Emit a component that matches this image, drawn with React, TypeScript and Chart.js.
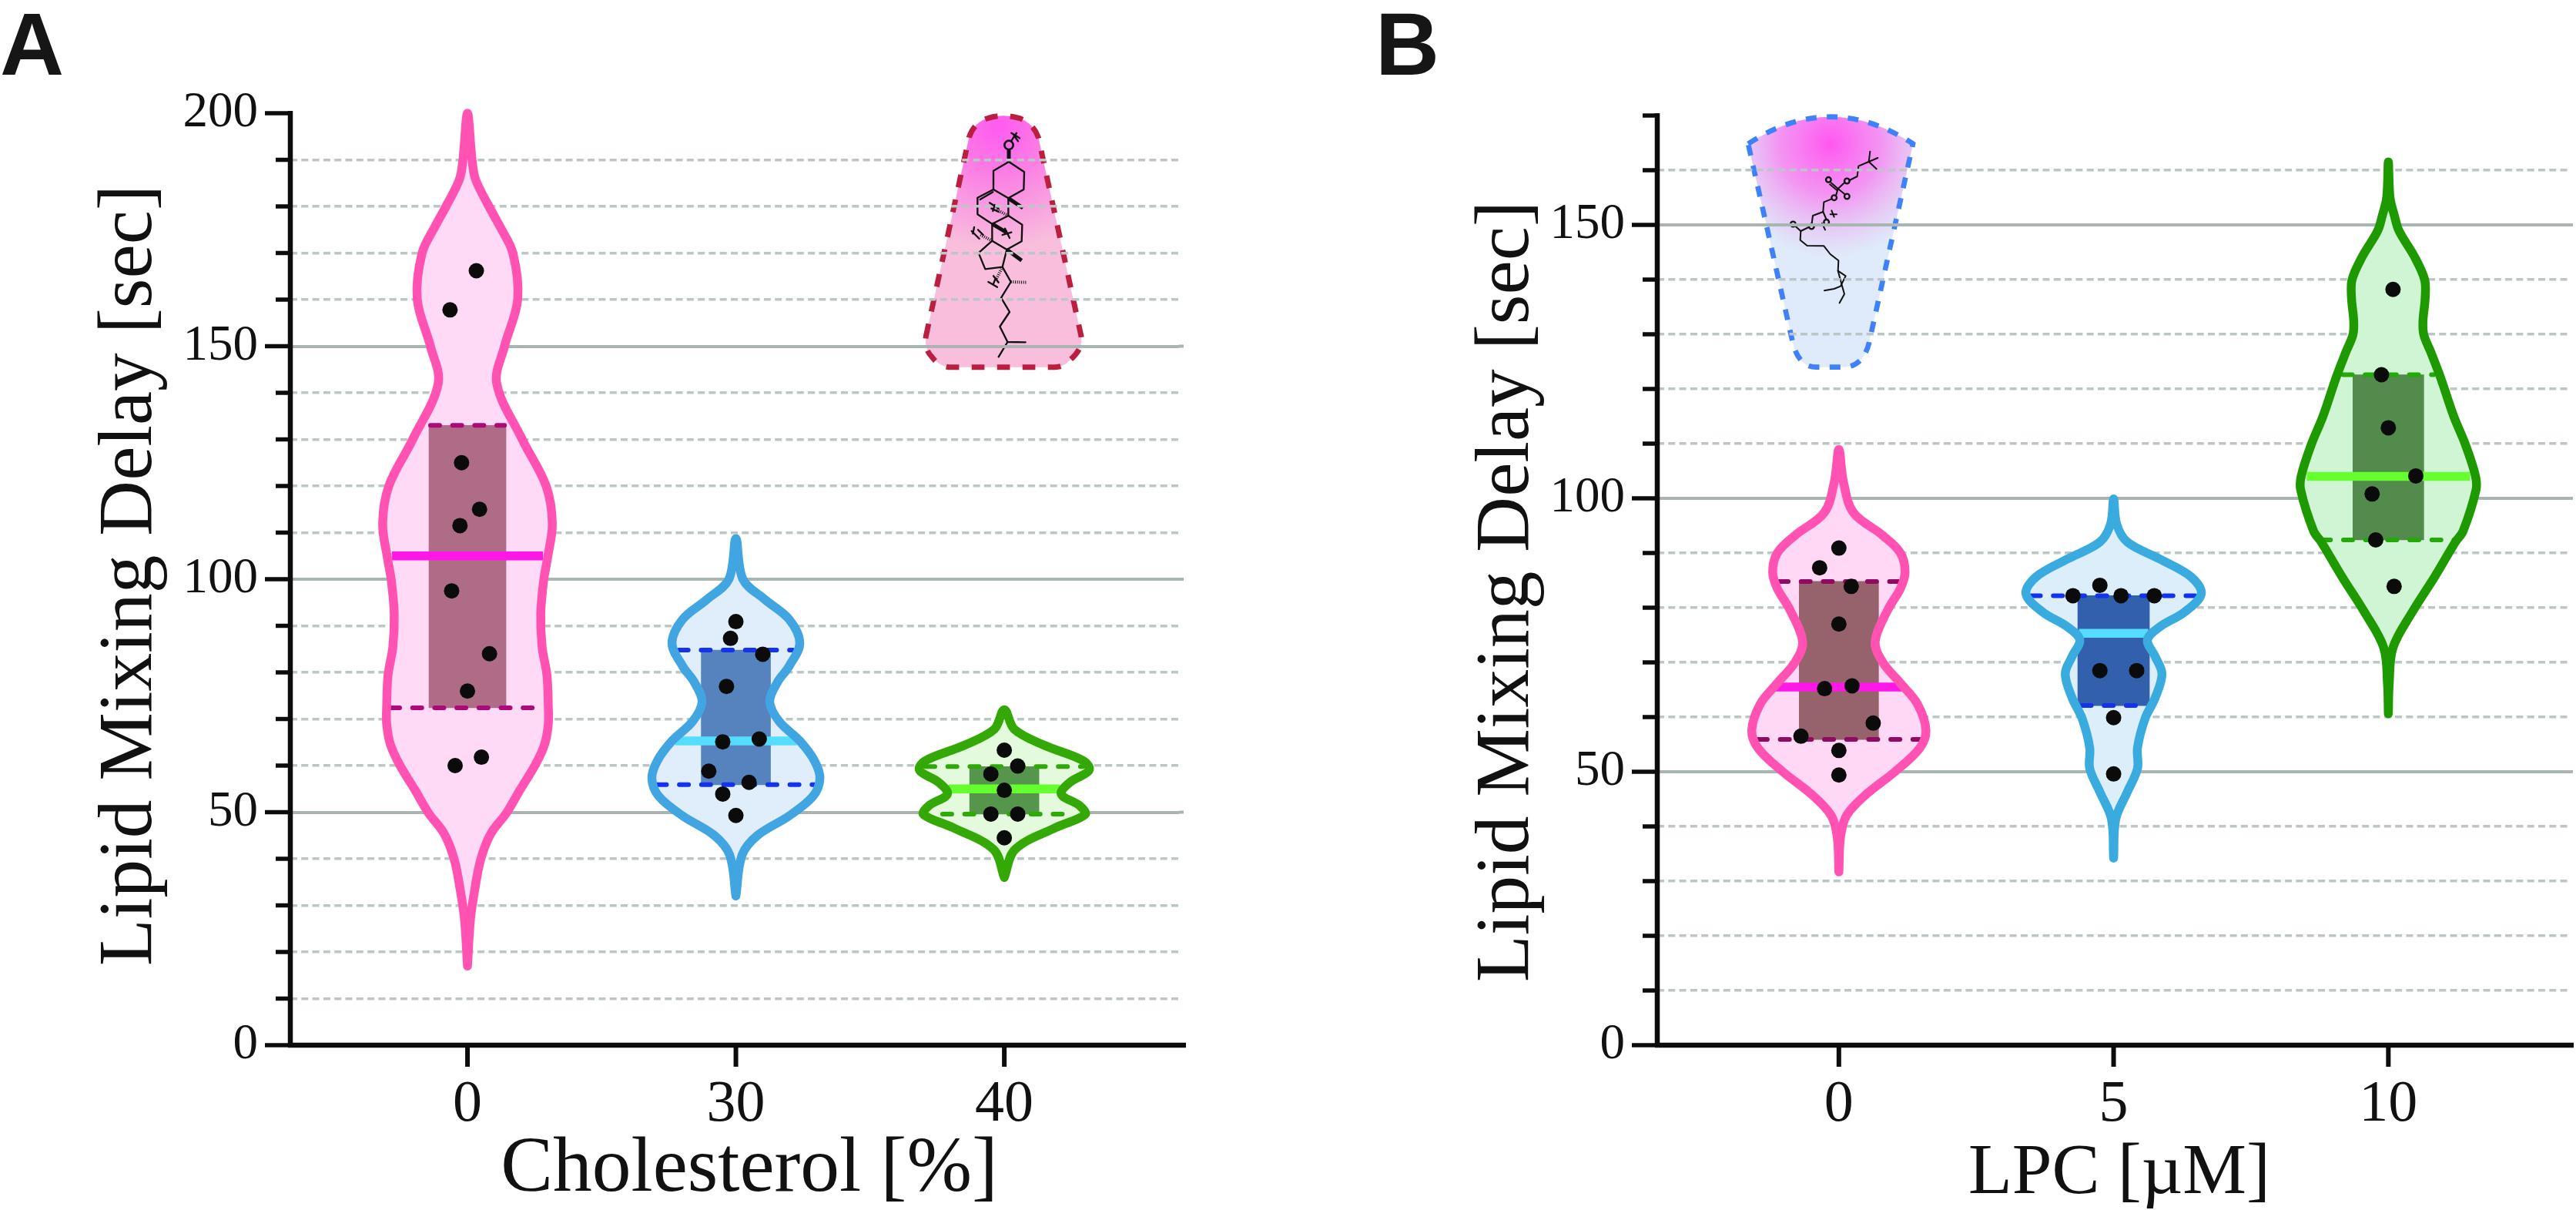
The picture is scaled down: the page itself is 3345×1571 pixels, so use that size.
import React, { useEffect, useRef } from "react";
import Chart from "chart.js/auto";

const categoriesA = ["0", "30", "40"];
const categoriesB = ["0", "5", "10"];

const violinA0Levels = [17, 27, 33, 39.8, 45.3, 49.9, 54.7, 60.2, 64.5, 68.9, 72.8, 79.4, 85.5, 92.6, 99.8, 104.5, 111.9, 120, 130, 142, 150, 160, 170, 176, 180, 185.8, 190, 200];
const violinA0Widths = [0, 0.011, 0.026, 0.049, 0.086, 0.146, 0.195, 0.253, 0.287, 0.301, 0.301, 0.296, 0.278, 0.273, 0.284, 0.298, 0.316, 0.293, 0.204, 0.109, 0.138, 0.187, 0.169, 0.118, 0.08, 0.03, 0.017, 0];
const violinA1Levels = [32, 40.8, 45, 49.2, 53.4, 57.2, 61, 65.3, 69.5, 73.7, 77.9, 81.3, 86.3, 91.4, 95.6, 100, 108.7];
const violinA1Widths = [0, 0.023, 0.08, 0.198, 0.287, 0.313, 0.293, 0.238, 0.161, 0.126, 0.155, 0.198, 0.238, 0.198, 0.109, 0.026, 0];
const violinA2Levels = [36, 42, 46.7, 49.5, 51.4, 53.9, 56.4, 59, 61, 64.5, 67.8, 72];
const violinA2Widths = [0, 0.04, 0.192, 0.301, 0.281, 0.212, 0.244, 0.316, 0.296, 0.143, 0.037, 0];

const violinB0Levels = [31.7, 38.1, 42, 45.8, 50, 54.3, 57.6, 62.4, 66.2, 70, 73.8, 79.7, 83.5, 86.5, 90, 93.2, 97.4, 102.9, 108.9];
const violinB0Widths = [0, 0.006, 0.028, 0.098, 0.204, 0.294, 0.317, 0.286, 0.224, 0.16, 0.132, 0.179, 0.224, 0.241, 0.224, 0.16, 0.053, 0.017, 0];
const violinB1Levels = [34.2, 41.4, 46.3, 50.6, 54.4, 59.8, 63.5, 67.9, 71.1, 74.1, 76.5, 79.2, 82.5, 85.6, 88.9, 92, 95.3, 99.9];
const violinB1Widths = [0, 0.008, 0.05, 0.087, 0.087, 0.115, 0.151, 0.176, 0.151, 0.123, 0.168, 0.258, 0.319, 0.283, 0.168, 0.05, 0.011, 0];
const violinB2Levels = [60.6, 66, 72.7, 79.2, 85.6, 92, 94, 101.5, 104.1, 109.9, 115, 122.1, 126.8, 129.9, 132.4, 136.6, 140, 144.2, 148.9, 151.7, 155, 161.5];
const violinB2Widths = [0, 0.003, 0.017, 0.087, 0.168, 0.244, 0.272, 0.319, 0.317, 0.28, 0.238, 0.19, 0.154, 0.129, 0.126, 0.134, 0.132, 0.095, 0.039, 0.022, 0.006, 0];

const mediansA = [105, 65.3, 55];
const medianSpanA = [0.281, 0.227, 0.207];
const q1A = [72.4, 55.9, 49.6];
const q1SpanA = [0.287, 0.293, 0.23];
const q3A = [133, 84.8, 59.8];
const q3SpanA = [0.138, 0.212, 0.293];

const mediansB = [65.5, 75.3, 104];
const medianSpanB = [0.238, 0.126, 0.297];
const q1B = [55.9, 62.1, 92.4];
const q1SpanB = [0.294, 0.115, 0.244];
const q3B = [84.8, 82.2, 122.6];
const q3SpanB = [0.218, 0.3, 0.165];

const dotsA0X = [0.033, -0.065, -0.022, 0.045, -0.028, -0.059, 0.082, 0, 0.052, -0.046];
const dotsA0Y = [166.2, 157.8, 125, 115, 111.5, 97.5, 84, 76, 61.8, 60];
const dotsA1X = [0, -0.02, 0.1, -0.035, -0.049, 0.087, -0.101, 0.049, -0.049, 0];
const dotsA1Y = [90.9, 87.3, 83.9, 77, 65.1, 65.7, 58.8, 56.4, 53.9, 49.3];
const dotsA2X = [0, 0.05, -0.05, 0, -0.05, 0.05, 0];
const dotsA2Y = [63.3, 59.9, 58.2, 54.7, 49.6, 49.6, 44.5];

const dotsB0X = [0, -0.07, 0.045, 0, -0.052, 0.048, 0.125, -0.138, 0, 0];
const dotsB0Y = [90.9, 87.3, 83.9, 77, 65.2, 65.7, 58.9, 56.5, 53.9, 49.4];
const dotsB1X = [-0.05, -0.148, 0.027, 0.148, -0.05, 0.084, 0, 0];
const dotsB1Y = [84.1, 82.2, 82.2, 82.2, 68.5, 68.5, 59.9, 49.6];
const dotsB2X = [0.017, -0.025, 0, 0.1, -0.059, -0.046, 0.021];
const dotsB2Y = [138.2, 122.6, 112.9, 104.1, 100.8, 92.4, 83.9];

const SERIF = '"Liberation Serif", serif';
const INK = "#111111";

type Style = { fill: string; stroke: string; box: string; median: string; quart: string; boxPx: number; lw: number };

const stylesA: Style[] = [
  { fill: "#ffdaf6", stroke: "#ff52b2", box: "rgba(120,35,60,0.6)", median: "#ff17e8", quart: "#ab0a78", boxPx: 100, lw: 11.5 },
  { fill: "#e0eefb", stroke: "#41a5e2", box: "rgba(40,95,168,0.75)", median: "#55ddff", quart: "#1433ee", boxPx: 90, lw: 11.5 },
  { fill: "#e3fbdc", stroke: "#33a806", box: "rgba(50,125,40,0.8)", median: "#66ff2e", quart: "#2fa80a", boxPx: 90, lw: 11.5 },
];
const stylesB: Style[] = [
  { fill: "#ffd8f5", stroke: "#ff52b2", box: "rgba(105,50,50,0.7)", median: "#ff17e8", quart: "#8f0a60", boxPx: 103, lw: 11.5 },
  { fill: "#ddeefb", stroke: "#3aabdf", box: "rgba(20,70,158,0.85)", median: "#55ddff", quart: "#1433ee", boxPx: 93, lw: 11.5 },
  { fill: "#cff5d4", stroke: "#1e9a00", box: "rgba(60,120,50,0.85)", median: "#66ff2e", quart: "#24a80a", boxPx: 92, lw: 11.5 },
];

const outline = (i: number, levels: number[], widths: number[]) => {
  const right = levels.map((y, k) => ({ x: i + widths[k], y }));
  const left = levels.map((y, k) => ({ x: i - widths[k], y })).reverse();
  return [...right, ...left.slice(1)];
};

const groupDatasets = (
  i: number, levels: number[], widths: number[], st: Style,
  median: number, mSpan: number, q1: number, q1Span: number, q3: number, q3Span: number,
  dx: number[], dy: number[]
) => {
  const pts = outline(i, levels, widths);
  const base = { type: "line", clip: false, pointRadius: 0, showLine: true, parsing: { xAxisKey: "x", yAxisKey: "y" } };
  const dash = { borderWidth: 6, borderDash: [12, 16.7], borderCapStyle: "round", fill: false, order: 5 };
  return [
    { ...base, label: "density " + i, data: pts, fill: "shape", backgroundColor: st.fill, borderWidth: 0, borderColor: "transparent", tension: 0.35, order: 7 },
    { type: "bar", label: "iqr " + i, data: [{ x: i, y: [q1, q3] }], backgroundColor: st.box, barThickness: st.boxPx, grouped: false, borderWidth: 0, order: 6 },
    { ...base, ...dash, label: "q1 " + i, data: [{ x: i - q1Span, y: q1 }, { x: i + q1Span, y: q1 }], borderColor: st.quart },
    { ...base, ...dash, label: "q3 " + i, data: [{ x: i - q3Span, y: q3 }, { x: i + q3Span, y: q3 }], borderColor: st.quart },
    { ...base, label: "median " + i, data: [{ x: i - mSpan, y: median }, { x: i + mSpan, y: median }], borderColor: st.median, borderWidth: 11.5, fill: false, order: 4 },
    { ...base, label: "outline " + i, data: pts, fill: false, borderColor: st.stroke, borderWidth: st.lw, tension: 0.35, borderCapStyle: "round", borderJoinStyle: "round", order: 3 },
    { type: "scatter", label: "points " + i, clip: false, data: dy.map((y, k) => ({ x: i + dx[k], y })), pointRadius: 10, pointBackgroundColor: "#0b0b0b", pointBorderWidth: 0, order: 1 },
  ];
};

type Seg = number[];
const cholesterolThin: Seg[] = [
  [480, 270, 540, 310, 538, 378, 478, 412, 420, 378, 420, 305, 480, 270],
  [420, 378, 358, 410, 358, 475, 415, 512, 478, 480, 478, 412],
  [368, 417, 418, 388],
  [478, 480, 532, 515, 530, 580, 472, 612, 415, 578, 415, 512],
  [415, 578, 362, 625, 388, 688, 455, 680, 472, 612],
  [455, 680, 488, 738, 450, 800, 483, 855, 445, 912, 475, 972, 545, 973],
  [475, 972, 440, 1030],
  [510, 158, 490, 188], [522, 178, 490, 158], [500, 168, 516, 190],
  [405, 430, 440, 452], [425, 438, 418, 462], [412, 452, 440, 465],
  [335, 540, 365, 570], [345, 525, 340, 550], [360, 535, 380, 555],
  [400, 738, 435, 758], [420, 715, 440, 740], [420, 745, 428, 725],
  [455, 555, 490, 545], [465, 530, 483, 567],
];
const cholesterolBold: Seg[] = [
  [480, 270, 480, 225], [478, 412, 535, 450], [472, 612, 530, 655], [415, 512, 470, 545],
];
const cholesterolDash: Seg[] = [
  [478, 480, 428, 455], [415, 578, 370, 555], [455, 680, 430, 730], [488, 738, 550, 740],
];
const lpcThin: Seg[] = [
  [590, 240, 595, 200], [590, 240, 625, 225], [590, 240, 620, 268],
  [590, 240, 550, 257, 545, 297, 515, 312],
  [495, 322, 470, 345], [443, 322, 470, 345], [438, 328, 465, 350], [470, 345, 495, 365], [470, 345, 462, 372],
  [445, 385, 415, 397, 412, 435, 372, 450, 368, 480],
  [356, 495, 325, 510, 305, 492], [325, 510, 323, 545, 350, 567, 415, 568, 440, 600, 472, 625, 470, 665, 500, 685, 480, 725, 455, 735, 417, 742],
  [470, 665, 485, 720, 495, 755, 476, 790],
  [412, 435, 425, 465], [408, 480, 420, 505], [440, 445, 465, 445], [445, 430, 455, 455],
];
const lpcRings = [[505, 315, 10], [433, 310, 10], [505, 375, 10], [455, 380, 10], [367, 492, 10], [295, 483, 10], [425, 475, 10]];

type Deco = {
  letter: string; letterX: number; yTitle: string; yTitleX: number; yTitleY: number; yTitleSize: number;
  xTitle: string; xTitleX: number; xTitleY: number; xTitleSize: number; axisRightExtra: number;
  inset: "chol" | "lpc"; offsetX: number;
};

const poly = (ctx: CanvasRenderingContext2D, s: Seg) => {
  ctx.beginPath();
  ctx.moveTo(s[0], s[1]);
  for (let k = 2; k < s.length; k += 2) ctx.lineTo(s[k], s[k + 1]);
  ctx.stroke();
};

const drawInset = (ctx: CanvasRenderingContext2D, d: Deco) => {
  ctx.save();
  if (d.inset === "chol") {
    ctx.translate(1150 - d.offsetX, 120);
    ctx.scale(1 / 3, 1 / 3);
    const path = new Path2D();
    path.moveTo(157, 950);
    path.lineTo(325, 175);
    path.quadraticCurveTo(345, 115, 400, 100);
    path.quadraticCurveTo(455, 82, 520, 100);
    path.quadraticCurveTo(575, 120, 595, 175);
    path.lineTo(762, 950);
    path.quadraticCurveTo(770, 1000, 715, 1045);
    path.quadraticCurveTo(695, 1070, 660, 1070);
    path.lineTo(245, 1070);
    path.quadraticCurveTo(205, 1065, 180, 1030);
    path.quadraticCurveTo(150, 1000, 157, 950);
    path.closePath();
    const g = ctx.createRadialGradient(440, 130, 10, 440, 130, 480);
    g.addColorStop(0, "#ff5cf0");
    g.addColorStop(0.3, "#fb76e6");
    g.addColorStop(1, "#f8bedc");
    ctx.fillStyle = g;
    ctx.fill(path);
    ctx.setLineDash([50, 49]);
    ctx.lineWidth = 21;
    ctx.strokeStyle = "#ba1f40";
    ctx.stroke(path);
    ctx.setLineDash([]);
    ctx.strokeStyle = "#111";
    ctx.lineCap = "round";
    ctx.lineJoin = "round";
    ctx.lineWidth = 7;
    cholesterolThin.forEach((s) => poly(ctx, s));
    ctx.lineWidth = 15;
    ctx.lineCap = "butt";
    cholesterolBold.forEach((s) => poly(ctx, s));
    ctx.lineWidth = 12;
    ctx.setLineDash([3, 5]);
    cholesterolDash.forEach((s) => poly(ctx, s));
    ctx.setLineDash([]);
    ctx.lineWidth = 8;
    ctx.beginPath();
    ctx.arc(480, 205, 17, 0, Math.PI * 2);
    ctx.stroke();
  } else {
    ctx.translate(2230 - d.offsetX, 130);
    ctx.scale(1 / 3, 1 / 3);
    const path = new Path2D();
    path.moveTo(120, 170);
    path.quadraticCurveTo(440, -40, 762, 170);
    path.lineTo(590, 950);
    path.quadraticCurveTo(565, 1040, 490, 1040);
    path.lineTo(385, 1040);
    path.quadraticCurveTo(320, 1040, 295, 950);
    path.closePath();
    ctx.fillStyle = "#dfeafa";
    ctx.fill(path);
    const g = ctx.createRadialGradient(440, 170, 5, 440, 170, 440);
    g.addColorStop(0, "rgba(255,88,240,1)");
    g.addColorStop(0.45, "rgba(250,120,240,0.75)");
    g.addColorStop(1, "rgba(240,160,235,0)");
    ctx.fillStyle = g;
    ctx.fill(path);
    ctx.setLineDash([42, 40]);
    ctx.lineWidth = 20;
    ctx.strokeStyle = "#3f80fb";
    ctx.stroke(path);
    ctx.setLineDash([]);
    ctx.strokeStyle = "#111";
    ctx.lineWidth = 6;
    ctx.lineCap = "round";
    ctx.lineJoin = "round";
    lpcThin.forEach((s) => poly(ctx, s));
    ctx.lineWidth = 7;
    lpcRings.forEach(([x, y, r]) => {
      ctx.beginPath();
      ctx.arc(x, y, r, 0, Math.PI * 2);
      ctx.stroke();
    });
  }
  ctx.restore();
};

const decorPlugin = (d: Deco) => ({
  id: "decor",
  beforeDraw(chart: any) {
    const ctx = chart.ctx;
    ctx.save();
    ctx.fillStyle = "#ffffff";
    ctx.fillRect(0, 0, chart.width, chart.height);
    ctx.restore();
    drawInset(ctx, d);
  },
  beforeDatasetsDraw(chart: any) {
    const ctx = chart.ctx;
    const ys = chart.scales.y;
    const { right } = chart.chartArea;
    ctx.save();
    ctx.strokeStyle = "#a9b5b3";
    ctx.lineWidth = 4;
    ys.ticks.forEach((t: any) => {
      if (t.value % 50 !== 0 || t.value === ys.max || t.value === 0) return;
      const y = ys.getPixelForValue(t.value);
      ctx.beginPath();
      ctx.moveTo(right, y);
      ctx.lineTo(right + 6, y);
      ctx.stroke();
    });
    ctx.restore();
  },
  afterDraw(chart: any) {
    const ctx = chart.ctx;
    const { left, right, top, bottom } = chart.chartArea;
    const xs = chart.scales.x;
    const ys = chart.scales.y;
    ctx.save();
    ctx.strokeStyle = "#0c0c0c";
    ctx.lineCap = "butt";
    ctx.lineWidth = 6.5;
    ctx.beginPath();
    ctx.moveTo(left, top - 3);
    ctx.lineTo(left, bottom + 3);
    ctx.moveTo(left - 3, bottom);
    ctx.lineTo(right + d.axisRightExtra, bottom);
    ctx.stroke();
    ctx.lineWidth = 5.5;
    ys.ticks.forEach((t: any) => {
      const y = ys.getPixelForValue(t.value);
      const len = t.value % 50 === 0 ? 33 : 19;
      ctx.beginPath();
      ctx.moveTo(left, y);
      ctx.lineTo(left - len, y);
      ctx.stroke();
    });
    ctx.lineWidth = 6;
    xs.ticks.forEach((t: any) => {
      const x = xs.getPixelForValue(t.value);
      ctx.beginPath();
      ctx.moveTo(x, bottom);
      ctx.lineTo(x, bottom + 28);
      ctx.stroke();
    });
    ctx.fillStyle = INK;
    ctx.textAlign = "center";
    ctx.textBaseline = "alphabetic";
    ctx.font = `${d.xTitleSize}px ${SERIF}`;
    ctx.fillText(d.xTitle, d.xTitleX - d.offsetX, d.xTitleY);
    ctx.save();
    ctx.translate(d.yTitleX - d.offsetX, d.yTitleY);
    ctx.rotate(-Math.PI / 2);
    ctx.font = `${d.yTitleSize}px ${SERIF}`;
    ctx.fillText(d.yTitle, 0, 0);
    ctx.restore();
    ctx.fillStyle = "#161616";
    ctx.textAlign = "left";
    ctx.font = 'bold 115px "Liberation Sans", sans-serif';
    ctx.fillText(d.letter, d.letterX - d.offsetX, 97);
    ctx.restore();
  },
});

const buildConfig = (
  cats: string[], datasets: any[], yMax: number, xMin: number, xMax: number, canvasW: number,
  plotLeft: number, plotRight: number, plotTop: number, d: Deco
) => ({
  type: "scatter",
  data: { datasets },
  plugins: [decorPlugin(d)],
  options: {
    animation: false,
    responsive: false,
    devicePixelRatio: 1,
    layout: { padding: { left: 0, top: plotTop, right: canvasW - plotRight, bottom: 0 } },
    plugins: { legend: { display: false }, tooltip: { enabled: false }, title: { display: false } },
    elements: { line: { capBezierPoints: false } },
    scales: {
      x: {
        type: "linear",
        min: xMin,
        max: xMax,
        offset: false,
        afterBuildTicks: (s: any) => { s.ticks = cats.map((_, i) => ({ value: i })); },
        afterFit: (s: any) => { s.height = 1571 - 1357; },
        grid: { display: false, offset: false, drawTicks: false },
        border: { display: false },
        ticks: {
          autoSkip: false, maxRotation: 0, padding: 32, color: INK,
          font: { family: SERIF, size: 76 },
          callback: (v: number) => cats[v],
        },
      },
      y: {
        type: "linear",
        min: 0,
        max: yMax,
        afterFit: (s: any) => { s.width = plotLeft; },
        grid: {
          drawTicks: false,
          color: (c: any) => c.tick.value === yMax ? "transparent" : c.tick.value % 50 === 0 ? "#a9b5b3" : "#bcc6c6",
          lineWidth: (c: any) => c.tick.value % 50 === 0 ? 4 : 3.5,
        },
        border: {
          display: false,
          dash: (c: any) => c.tick.value % 50 === 0 ? [] : [9, 5.3],
        },
        ticks: {
          stepSize: 10, autoSkip: false, padding: 42, color: INK,
          font: { family: SERIF, size: 65 },
          callback: (v: number) => v % 50 === 0 ? String(v) : "",
        },
      },
    },
  },
});

const Panel = ({ left, width, config }: { left: number; width: number; config: any }) => {
  const ref = useRef<HTMLCanvasElement | null>(null);
  useEffect(() => {
    const chart = new Chart(ref.current as HTMLCanvasElement, config);
    return () => chart.destroy();
  }, []);
  return <canvas ref={ref} width={width} height={1571} style={{ position: "absolute", left, top: 0, width, height: 1571, display: "block" }} />;
};

const datasetsA = [
  ...groupDatasets(0, violinA0Levels, violinA0Widths, stylesA[0], mediansA[0], medianSpanA[0], q1A[0], q1SpanA[0], q3A[0], q3SpanA[0], dotsA0X, dotsA0Y),
  ...groupDatasets(1, violinA1Levels, violinA1Widths, stylesA[1], mediansA[1], medianSpanA[1], q1A[1], q1SpanA[1], q3A[1], q3SpanA[1], dotsA1X, dotsA1Y),
  ...groupDatasets(2, violinA2Levels, violinA2Widths, stylesA[2], mediansA[2], medianSpanA[2], q1A[2], q1SpanA[2], q3A[2], q3SpanA[2], dotsA2X, dotsA2Y),
];
const datasetsB = [
  ...groupDatasets(0, violinB0Levels, violinB0Widths, stylesB[0], mediansB[0], medianSpanB[0], q1B[0], q1SpanB[0], q3B[0], q3SpanB[0], dotsB0X, dotsB0Y),
  ...groupDatasets(1, violinB1Levels, violinB1Widths, stylesB[1], mediansB[1], medianSpanB[1], q1B[1], q1SpanB[1], q3B[1], q3SpanB[1], dotsB1X, dotsB1Y),
  ...groupDatasets(2, violinB2Levels, violinB2Widths, stylesB[2], mediansB[2], medianSpanB[2], q1B[2], q1SpanB[2], q3B[2], q3SpanB[2], dotsB2X, dotsB2Y),
];

const configA = buildConfig(categoriesA, datasetsA, 200, -0.66, 2.651, 1672, 377, 1531, 147, {
  letter: "A", letterX: 0, yTitle: "Lipid Mixing Delay [sec]", yTitleX: 196, yTitleY: 747, yTitleSize: 99.5,
  xTitle: "Cholesterol [%]", xTitleX: 973, xTitleY: 1546, xTitleSize: 101.5, axisRightExtra: 9, inset: "chol", offsetX: 0,
});
const configB = buildConfig(categoriesB, datasetsB, 170, -0.661, 2.655, 1673, 2152 - 1672, 3336 - 1672, 150, {
  letter: "B", letterX: 1786, yTitle: "Lipid Mixing Delay [sec]", yTitleX: 1984, yTitleY: 768, yTitleSize: 99.5,
  xTitle: "LPC [µM]", xTitleX: 2752, xTitleY: 1549, xTitleSize: 93, axisRightExtra: 7, inset: "lpc", offsetX: 1672,
});

export default function App() {
  return (
    <div style={{ position: "absolute", left: 0, top: 0, width: 3345, height: 1571, background: "#fff", overflow: "hidden" }}>
      <Panel left={0} width={1672} config={configA} />
      <Panel left={1672} width={1673} config={configB} />
    </div>
  );
}
